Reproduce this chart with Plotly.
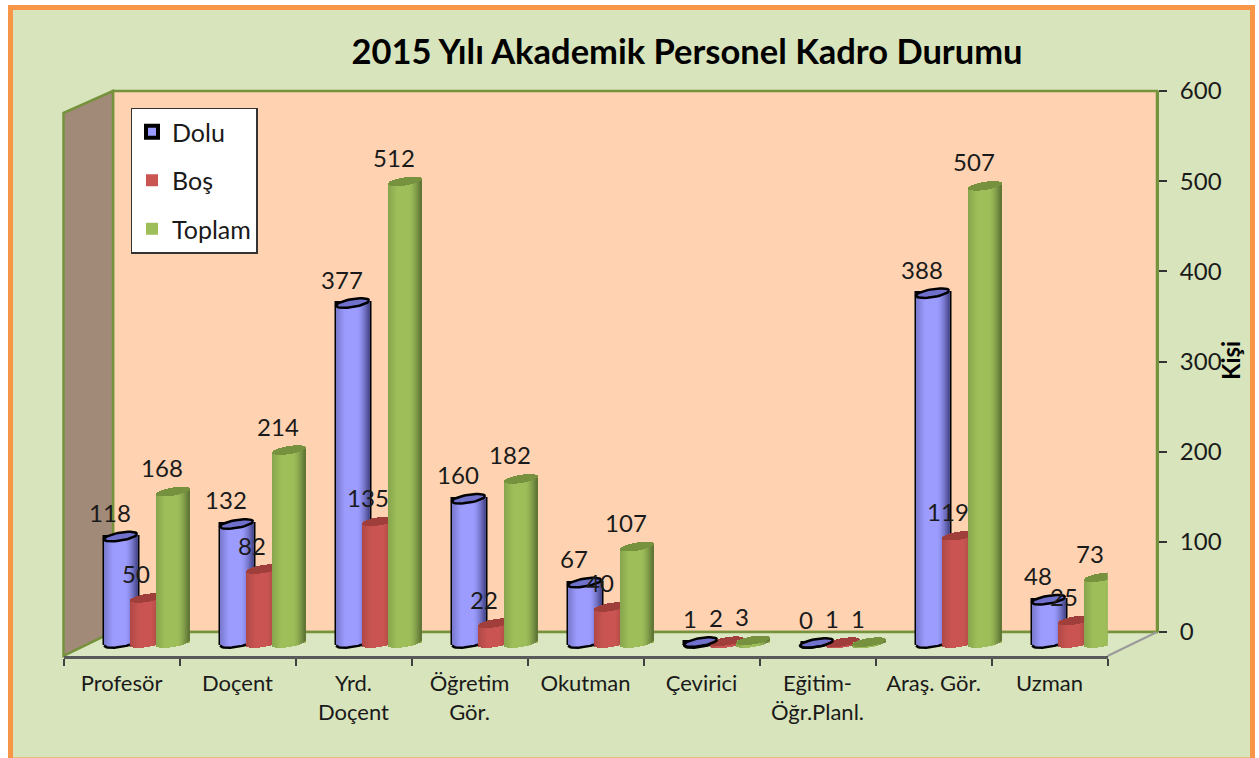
import math
import plotly.graph_objects as go

# ---- data ----
categories = ["Profesör", "Doçent", "Yrd.<br>Doçent", "Öğretim<br>Gör.", "Okutman",
              "Çevirici", "Eğitim-<br>Öğr.Planl.", "Araş. Gör.", "Uzman"]
dolu = [118, 132, 377, 160, 67, 1, 0, 388, 48]
bos = [50, 82, 135, 22, 40, 2, 1, 119, 25]
toplam = [168, 214, 512, 182, 107, 3, 1, 507, 73]
value_ticks = [0, 100, 200, 300, 400, 500, 600]

# ---- canvas geometry (pixels) ----
W, H = 1259, 758
AX_L, AX_R = 63.5, 1107.5      # front x axis
AX_Y, AX_TOP = 656.0, 60.0     # front x-axis line and top of the bar plot area
ZERO_Y = 643.0                 # where value 0 lands for the cylinders
BACK_L, BACK_R = 113.0, 1157.0
BACK_T, BACK_B = 91.0, 632.0
PX_PER_UNIT = (BACK_B - BACK_T) / 600.0
CAT_W = (AX_R - AX_L) / len(categories)


def dx(px):
    return px / CAT_W


def dv(px):
    return px / PX_PER_UNIT


def X(px):
    return (px - AX_L) / CAT_W


def V(py):
    return (ZERO_Y - py) / PX_PER_UNIT


def px_x(px):
    return px / W


def px_y(py):
    return 1 - py / H


RX, RY, TILT = 16.5, 4.0, 2.6
N_STRIPS = 33
CENTER_OFF = {"Dolu": 120.5, "Boş": 146.5, "Toplam": 172.5}

STYLES = {
    "Dolu": dict(light=(156, 156, 255), dark=(72, 72, 140), edge=(120, 120, 205), top=(112, 112, 205)),
    "Boş": dict(light=(201, 84, 81), dark=(125, 52, 50), edge=(175, 72, 70), top=(160, 62, 60)),
    "Toplam": dict(light=(158, 190, 90), dark=(92, 114, 52), edge=(135, 165, 76), top=(118, 146, 62)),
}


def mix(a, b, t):
    return tuple(round(a[i] + (b[i] - a[i]) * t) for i in range(3))


def shade(st, u):
    """u in [-1, 1] across the cylinder."""
    if u < -0.45:
        c = mix(st["edge"], st["light"], (u + 1) / 0.55)
    elif u < 0.25:
        c = st["light"]
    else:
        c = mix(st["light"], st["dark"], ((u - 0.25) / 0.75) ** 1.6)
    return "rgb(%d,%d,%d)" % c


def hex_rgb(c):
    return "rgb(%d,%d,%d)" % c


series = [("Dolu", dolu), ("Boş", bos), ("Toplam", toplam)]
fig = go.Figure()

for name, vals in series:
    st = STYLES[name]
    centers = [X(CENTER_OFF[name]) + i for i in range(len(vals))]
    # the value bar itself (legend entry + straight sides)
    fig.add_bar(
        x=centers, y=vals, width=dx(2 * RX), name=name, legendgroup=name,
        marker=dict(color=hex_rgb(st["light"]),
                    line=dict(color="black" if name == "Dolu" else "rgba(0,0,0,0)",
                              width=4 if name == "Dolu" else 0)),
        hoverinfo="skip",
    )
    # shaded strips: rounded bottom, plus tilted elliptical top face
    sx, sy, sb, sc = [], [], [], []
    tx, ty, tb = [], [], []
    for c, v in zip(centers, vals):
        for k in range(N_STRIPS):
            u = -1 + (k + 0.5) * 2 / N_STRIPS
            off = math.sqrt(max(0, 1 - u * u)) * RY
            tilt = TILT * u
            low = dv(-(off - tilt))            # lower arc of the base
            face_low = v + dv(tilt - off)      # lower arc of the top face
            face_high = v + dv(tilt + off)     # upper arc of the top face
            sx.append(c + u * dx(RX))
            sb.append(low)
            sy.append(face_low - low)
            sc.append(shade(st, u))
            tx.append(c + u * dx(RX))
            tb.append(face_low)
            ty.append(face_high - face_low)
    fig.add_bar(x=sx, y=sy, base=sb, width=dx(2 * RX / N_STRIPS) * 1.02, showlegend=False,
                legendgroup=name,
                marker=dict(color=sc, line=dict(width=0)), hoverinfo="skip")
    fig.add_bar(x=tx, y=ty, base=tb, width=dx(2 * RX / N_STRIPS) * 1.02, showlegend=False,
                legendgroup=name,
                marker=dict(color=hex_rgb(st["top"]), line=dict(width=0)), hoverinfo="skip")

# black outline of the "Dolu" cylinders (top ring + visible part of the base arc)
ox, oy = [], []
for i, v in enumerate(dolu):
    c = X(CENTER_OFF["Dolu"]) + i
    for j in range(41):
        a = 2 * math.pi * j / 40
        u = math.cos(a)
        ox.append(c + u * dx(RX))
        oy.append(v + dv(TILT * u + RY * math.sin(a)))
    ox.append(None)
    oy.append(None)
    right_limit = (CENTER_OFF["Boş"] - CENTER_OFF["Dolu"] - RX) / RX
    for j in range(21):
        u = -1 + (right_limit + 1) * j / 20
        ox.append(c + u * dx(RX))
        oy.append(dv(TILT * u - RY * math.sqrt(max(0, 1 - u * u))))
    ox.append(None)
    oy.append(None)
fig.add_scatter(x=ox, y=oy, mode="lines", line=dict(color="black", width=2.5),
                showlegend=False, hoverinfo="skip", cliponaxis=False)

# data labels
for name, vals in series:
    fig.add_scatter(
        x=[X(CENTER_OFF[name] - 10.5) + i for i in range(len(vals))],
        y=[v + dv(20.5) for v in vals],
        text=[str(v) for v in vals], mode="text", textposition="middle center",
        textfont=dict(family="Lato", size=24, color="#1a1a1a"),
        showlegend=False, hoverinfo="skip", cliponaxis=False,
    )

# right-hand value axis needs a trace to exist
fig.add_scatter(x=[None], y=[None], yaxis="y2", showlegend=False, hoverinfo="skip")


def poly(pts):
    return "M " + " L ".join(f"{px_x(x):.5f},{px_y(y):.5f}" for x, y in pts) + " Z"


WALL_G = "#76923C"
shapes = [
    # outer panel
    dict(type="rect", xref="paper", yref="paper", x0=px_x(10.5), x1=px_x(1252.5), y0=px_y(760), y1=px_y(7.5),
         fillcolor="#D8E4BC", line=dict(color="#F79646", width=5), layer="below"),
    # back wall
    dict(type="path", xref="paper", yref="paper",
         path=poly([(BACK_L, BACK_T), (BACK_R, BACK_T), (BACK_R, BACK_B), (BACK_L, BACK_B)]),
         fillcolor="#FFD3B2", line=dict(color=WALL_G, width=2.5), layer="below"),
    # left wall
    dict(type="path", xref="paper", yref="paper",
         path=poly([(AX_L, 113), (BACK_L, BACK_T), (BACK_L, BACK_B), (AX_L, AX_Y)]),
         fillcolor="#A28A78", line=dict(color=WALL_G, width=2.5), layer="below"),
    # floor
    dict(type="path", xref="paper", yref="paper",
         path=poly([(AX_L, AX_Y), (BACK_L, BACK_B), (BACK_R, BACK_B), (AX_R, AX_Y)]),
         fillcolor="#DBE7C2", line=dict(color="rgba(0,0,0,0)", width=0), layer="below"),
    dict(type="line", xref="paper", yref="paper", x0=px_x(BACK_L), x1=px_x(BACK_R), y0=px_y(BACK_B), y1=px_y(BACK_B),
         line=dict(color=WALL_G, width=2.5), layer="below"),
    dict(type="line", xref="paper", yref="paper", x0=px_x(AX_L), x1=px_x(BACK_L), y0=px_y(AX_Y), y1=px_y(BACK_B),
         line=dict(color=WALL_G, width=2.5), layer="below"),
    dict(type="line", xref="paper", yref="paper", x0=px_x(AX_R), x1=px_x(BACK_R), y0=px_y(AX_Y), y1=px_y(BACK_B),
         line=dict(color="#9A9A9A", width=2), layer="below"),
]

fig.update_layout(
    width=W, height=H, autosize=False,
    margin=dict(l=0, r=0, t=0, b=0, pad=0, autoexpand=False),
    paper_bgcolor="white", plot_bgcolor="rgba(0,0,0,0)",
    barmode="overlay", bargap=0,
    font=dict(family="Lato", color="#1a1a1a"),
    shapes=shapes,
    title=dict(text="<b>2015 Yılı Akademik Personel Kadro Durumu</b>",
               x=687 / W, xanchor="center", y=px_y(52), yanchor="middle", automargin=False,
               font=dict(family="Lato", size=34.5, color="black")),
    xaxis=dict(domain=[px_x(AX_L), px_x(AX_R)], range=[0, len(categories)],
               tickmode="array", tickvals=[i + 0.5 for i in range(len(categories))],
               ticktext=categories, ticks="", ticklabelstandoff=6,
               tickfont=dict(family="Lato", size=22, color="#1a1a1a"),
               minor=dict(tickmode="array", tickvals=list(range(len(categories) + 1)),
                          ticks="outside", ticklen=7, tickcolor="#404040", tickwidth=1.5),
               showline=True, linecolor="#595959", linewidth=2.5, showgrid=False,
               zeroline=False, fixedrange=True),
    yaxis=dict(domain=[px_y(AX_Y), px_y(AX_TOP)], range=[V(AX_Y), V(AX_TOP)],
               visible=False, showgrid=False, zeroline=False, fixedrange=True),
    yaxis2=dict(domain=[px_y(BACK_B), px_y(BACK_T)], range=[0, 600], anchor="free",
                position=px_x(BACK_R), side="right", overlaying=None,
                tickmode="array", tickvals=value_ticks, ticks="outside", ticklen=8,
                tickcolor="#333333", tickwidth=1.5, ticklabelstandoff=8,
                tickfont=dict(family="Lato", size=24, color="#1a1a1a"),
                showline=True, linecolor=WALL_G, linewidth=3, showgrid=False,
                zeroline=False, fixedrange=True),
    legend=dict(x=px_x(130.5), y=px_y(107.5), xanchor="left", yanchor="top",
                bgcolor="white", bordercolor="#333333", borderwidth=1.5,
                font=dict(family="Lato", size=25, color="#1a1a1a"),
                tracegroupgap=13, itemwidth=30, traceorder="grouped",
                entrywidth=96, entrywidthmode="pixels"),
    annotations=[dict(text="<b>Kişi</b>", xref="paper", yref="paper", x=px_x(1230), y=px_y(361),
                      textangle=-90, showarrow=False, xanchor="center", yanchor="middle",
                      font=dict(family="Lato", size=24, color="black"))],
)

fig.write_html("out.html", config={"displayModeBar": False},
               post_script="document.body.style.margin='0';document.body.style.overflow='hidden';")
